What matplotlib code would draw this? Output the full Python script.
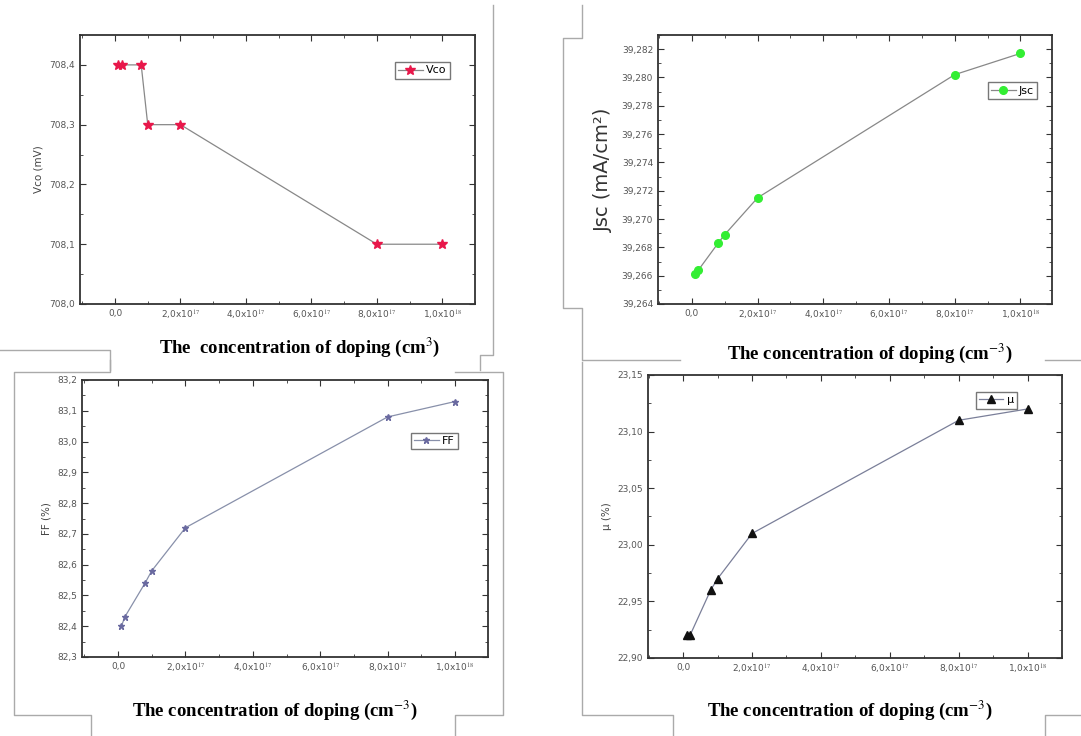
import matplotlib
matplotlib.use("Agg")
import matplotlib.pyplot as plt
from matplotlib.ticker import FuncFormatter, MultipleLocator, AutoMinorLocator
from matplotlib.lines import Line2D

plt.rcParams["mathtext.fontset"] = "stix"

# Doping concentration (cm^-3)
doping = [1e16, 2e16, 8e16, 1e17, 2e17, 8e17, 1e18]

# Photovoltaic parameters versus doping
vco = [708.4, 708.4, 708.4, 708.3, 708.3, 708.1, 708.1]            # mV
jsc = [39.2661, 39.2664, 39.2683, 39.2689, 39.2715, 39.2802, 39.2817]  # mA/cm2
ff = [82.40, 82.43, 82.54, 82.58, 82.72, 83.08, 83.13]             # %
eta = [22.92, 22.92, 22.96, 22.97, 23.01, 23.11, 23.12]            # %

W, H = 1081, 736
fig = plt.figure(figsize=(W / 100, H / 100), dpi=100)
fig.patch.set_facecolor("white")


def box(l, r, t, b):
    return [l / W, 1 - b / H, (r - l) / W, (b - t) / H]


def xfmt(v, pos):
    if abs(v) < 1:
        return "0,0"
    e = 0
    m = v
    while abs(m) >= 10:
        m /= 10
        e += 1
    return ("%.1f" % m).replace(".", ",") + "x10$^{%d}$" % e


def yfmt(nd):
    return FuncFormatter(lambda v, p: ("%.*f" % (nd, v)).replace(".", ","))


def style(ax, xlim, ylim, ystep, nd):
    ax.set_xlim(*xlim)
    ax.set_ylim(*ylim)
    ax.xaxis.set_major_locator(MultipleLocator(2e17))
    ax.xaxis.set_minor_locator(AutoMinorLocator(2))
    ax.yaxis.set_major_locator(MultipleLocator(ystep))
    ax.yaxis.set_minor_locator(AutoMinorLocator(2))
    ax.xaxis.set_major_formatter(FuncFormatter(xfmt))
    ax.yaxis.set_major_formatter(yfmt(nd))
    ax.tick_params(which="both", direction="in", top=True, right=True,
                   labelsize=6.5, labelcolor="#555555", color="#333333")
    ax.tick_params(which="major", length=4)
    ax.tick_params(which="minor", length=2)
    for s in ax.spines.values():
        s.set_linewidth(1.3)
        s.set_color("#333333")


xlabel_kw = dict(family="Liberation Serif", fontweight="bold", fontsize=13.5)
leg_kw = dict(loc="upper right", fontsize=8, fancybox=False, framealpha=1,
              edgecolor="#777777", handlelength=2.2, borderpad=0.3,
              handletextpad=0.3)

# Open-circuit voltage
ax1 = fig.add_axes(box(80, 475, 35, 304))
ax1.plot(doping, vco, color="#888888", lw=0.9, marker="*", ms=7,
         mfc="#e8174a", mec="#e8174a", label="Vco")
style(ax1, (-1.07e17, 1.1e18), (708.0, 708.45), 0.1, 1)
ax1.set_ylabel("Vco (mV)", fontsize=7.5, color="#444444", labelpad=4)
ax1.legend(bbox_to_anchor=(0.95, 0.92), **leg_kw)
fig.text(300 / W, 1 - 347 / H, "The  concentration of doping (cm$^{3}$)",
         ha="center", va="center", **xlabel_kw)

# Short-circuit current density
ax2 = fig.add_axes(box(658, 1052, 35, 304))
ax2.plot(doping, jsc, color="#888888", lw=0.9, marker="o", ms=5.5,
         mfc="#33ee33", mec="#33ee33", label="Jsc")
style(ax2, (-1.03e17, 1.096e18), (39.264, 39.283), 0.002, 3)
ax2.set_ylabel("Jsc (mA/cm²)", fontsize=14, color="#333333", labelpad=6)
ax2.legend(bbox_to_anchor=(0.977, 0.845), **leg_kw)
fig.text(870 / W, 1 - 353 / H, "The concentration of doping (cm$^{-3}$)",
         ha="center", va="center", **xlabel_kw)

# Fill factor
ax3 = fig.add_axes(box(82, 488, 380, 657))
ax3.plot(doping, ff, color="#8890aa", lw=0.9, marker="*", ms=5,
         mfc="#6a6aa0", mec="#6a6aa0", label="FF")
style(ax3, (-1.07e17, 1.098e18), (82.3, 83.2), 0.1, 1)
ax3.set_ylabel("FF (%)", fontsize=7.5, color="#444444", labelpad=4)
ax3.legend(bbox_to_anchor=(0.94, 0.83), **leg_kw)
fig.text(275 / W, 1 - 710 / H, "The concentration of doping (cm$^{-3}$)",
         ha="center", va="center", **xlabel_kw)

# Efficiency
ax4 = fig.add_axes(box(648, 1062, 375, 658))
ax4.plot(doping, eta, color="#7a7f99", lw=0.9, marker="^", ms=5.5,
         mfc="#111111", mec="#111111", label="μ")
style(ax4, (-1.02e17, 1.10e18), (22.90, 23.15), 0.05, 2)
ax4.set_ylabel("μ (%)", fontsize=7.5, color="#444444", labelpad=4)
ax4.legend(bbox_to_anchor=(0.905, 0.96), **leg_kw)
fig.text(850 / W, 1 - 710 / H, "The concentration of doping (cm$^{-3}$)",
         ha="center", va="center", **xlabel_kw)

# Panel outlines
outline = [
    [(493, 5), (493, 355), (480, 355), (480, 370)],
    [(0, 350), (110, 350), (110, 370)],
    [(582, 5), (582, 38), (563, 38), (563, 308), (582, 308), (582, 360), (680, 360)],
    [(1045, 360), (1081, 360)],
    [(110, 360), (110, 372), (14, 372), (14, 715), (91, 715), (91, 736)],
    [(455, 372), (503, 372), (503, 715), (455, 715), (455, 736)],
    [(582, 362), (582, 715), (673, 715), (673, 736)],
    [(1045, 736), (1045, 715), (1081, 715)],
]
for path in outline:
    xs = [p[0] / W for p in path]
    ys = [1 - p[1] / H for p in path]
    fig.add_artist(Line2D(xs, ys, color="#aaaaaa", lw=1.0,
                          transform=fig.transFigure))

fig.savefig("out.png", dpi=100, facecolor="white")
